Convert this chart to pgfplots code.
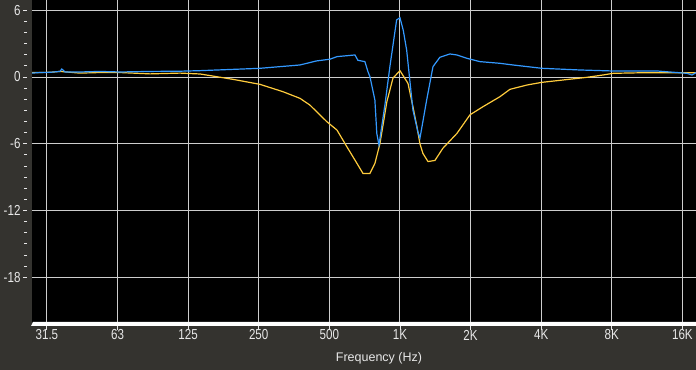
\documentclass[border=0pt]{standalone}
\usepackage{pgfplots}
\pgfplotsset{compat=1.18}
\usepackage{fontspec}
\setmainfont{Liberation Sans}
\newfontfamily\narrowfont{Liberation Sans}[FakeStretch=0.8]
\definecolor{bg}{RGB}{52,51,47}
\definecolor{gridc}{RGB}{205,205,205}
\definecolor{tickc}{RGB}{232,232,232}
\definecolor{blueline}{RGB}{51,153,255}
\definecolor{orangeline}{RGB}{255,204,60}
\begin{document}
\begin{tikzpicture}
\useasboundingbox (0,0) rectangle (696bp,370bp);
\fill[bg] (0,0) rectangle (696bp,370bp);
\begin{axis}[
  at={(32bp,48bp)}, anchor=south west,
  scale only axis, width=664bp, height=322bp,
  xmode=log, xmin=27.0, xmax=18290,
  ymin=-22.02, ymax=6.92,
  axis background/.style={fill=black},
  axis line style={draw=none},
  xtick pos=bottom, ytick pos=left,
  xtick={31.25,62.5,125,250,500,1000,2000,4000,8000,16000},
  xticklabels={31.5,63,125,250,500,1K,2K,4K,8K,16K},
  xminorticks=false,
  ytick={-18,-12,-6,0,6},
  minor y tick num=5,
  tick align=outside,
  major tick length=4bp, minor tick length=3bp,
  xtick style={draw=tickc, line width=0.8bp, yshift=-4bp},
  ytick style={draw=tickc, line width=0.8bp, xshift=-5bp},
  grid=major,
  major grid style={draw=gridc, line width=0.9bp},
  /pgf/number format/assume math mode=true,
  ticklabel style={font=\narrowfont\fontsize{14.5bp}{16bp}\selectfont, text=tickc},
  xticklabel style={anchor=center, yshift=-9bp},
  yticklabel style={anchor=east, xshift=-4bp},
  xlabel={Frequency (Hz)},
  xlabel style={at={(axis description cs:0.5226,0)}, anchor=center, yshift=-36bp,
    font=\fontsize{12.5bp}{14bp}\selectfont, text=tickc},
  clip=true,
]
\addplot[orangeline, line width=1.2bp] coordinates {
(27.0,0.40) (32.2,0.42) (35.5,0.50) (43.2,0.35) (52.6,0.40) (64,0.40) (86,0.28)
(115.5,0.35) (140.6,0.27) (194,-0.21) (253,-0.66) (317,-1.32) (375,-1.92)
(413,-2.52) (488,-4.02) (539,-4.77) (594,-6.27) (656,-7.77) (696,-8.67)
(745,-8.67) (783,-7.74) (822,-5.97) (880,-2.2) (934,-0.1) (1000,0.57)
(1082,-0.57) (1136,-2.67) (1182,-4.5) (1217,-6.0) (1253,-6.87) (1317,-7.6)
(1410,-7.5) (1525,-6.4) (1750,-5.07) (1989,-3.4) (2259,-2.67) (2669,-1.77)
(2944,-1.11) (3480,-0.72) (4031,-0.48) (4955,-0.27) (6270,-0.03) (7340,0.18)
(8096,0.33) (11300,0.39) (15630,0.39) (18290,0.39)
};
\addplot[blueline, line width=1.2bp] coordinates {
(27.0,0.35) (29.2,0.40) (32.2,0.42) (35.5,0.50) (36.2,0.72) (37.3,0.45)
(43.2,0.45) (52.6,0.50) (64,0.45) (86,0.50) (115.5,0.52) (140.6,0.57)
(253,0.78) (375,1.08) (440,1.44) (503,1.60) (539,1.83) (643,1.98)
(662,1.50) (709,1.38) (730,0.5) (745,0.03) (782,-2.07) (797,-5.07) (814,-6.12)
(863,-2.5) (906,0.93) (968,5.13) (1000,5.33) (1033,4.2) (1068,2.43)
(1136,-2.97) (1195,-5.0) (1217,-5.5) (1300,-2.07) (1383,0.93) (1480,1.77)
(1634,2.07) (1750,1.98) (1930,1.68) (2193,1.38) (2669,1.23) (3033,1.08)
(4031,0.78) (5855,0.63) (8096,0.54) (12470,0.54) (16740,0.33) (17580,0.18)
(18290,0.39)
};
\end{axis}
\fill[white] (31bp,44bp) -- (33bp,48bp) -- (696bp,48bp) -- (696bp,44bp) -- cycle;
\end{tikzpicture}
\end{document}
